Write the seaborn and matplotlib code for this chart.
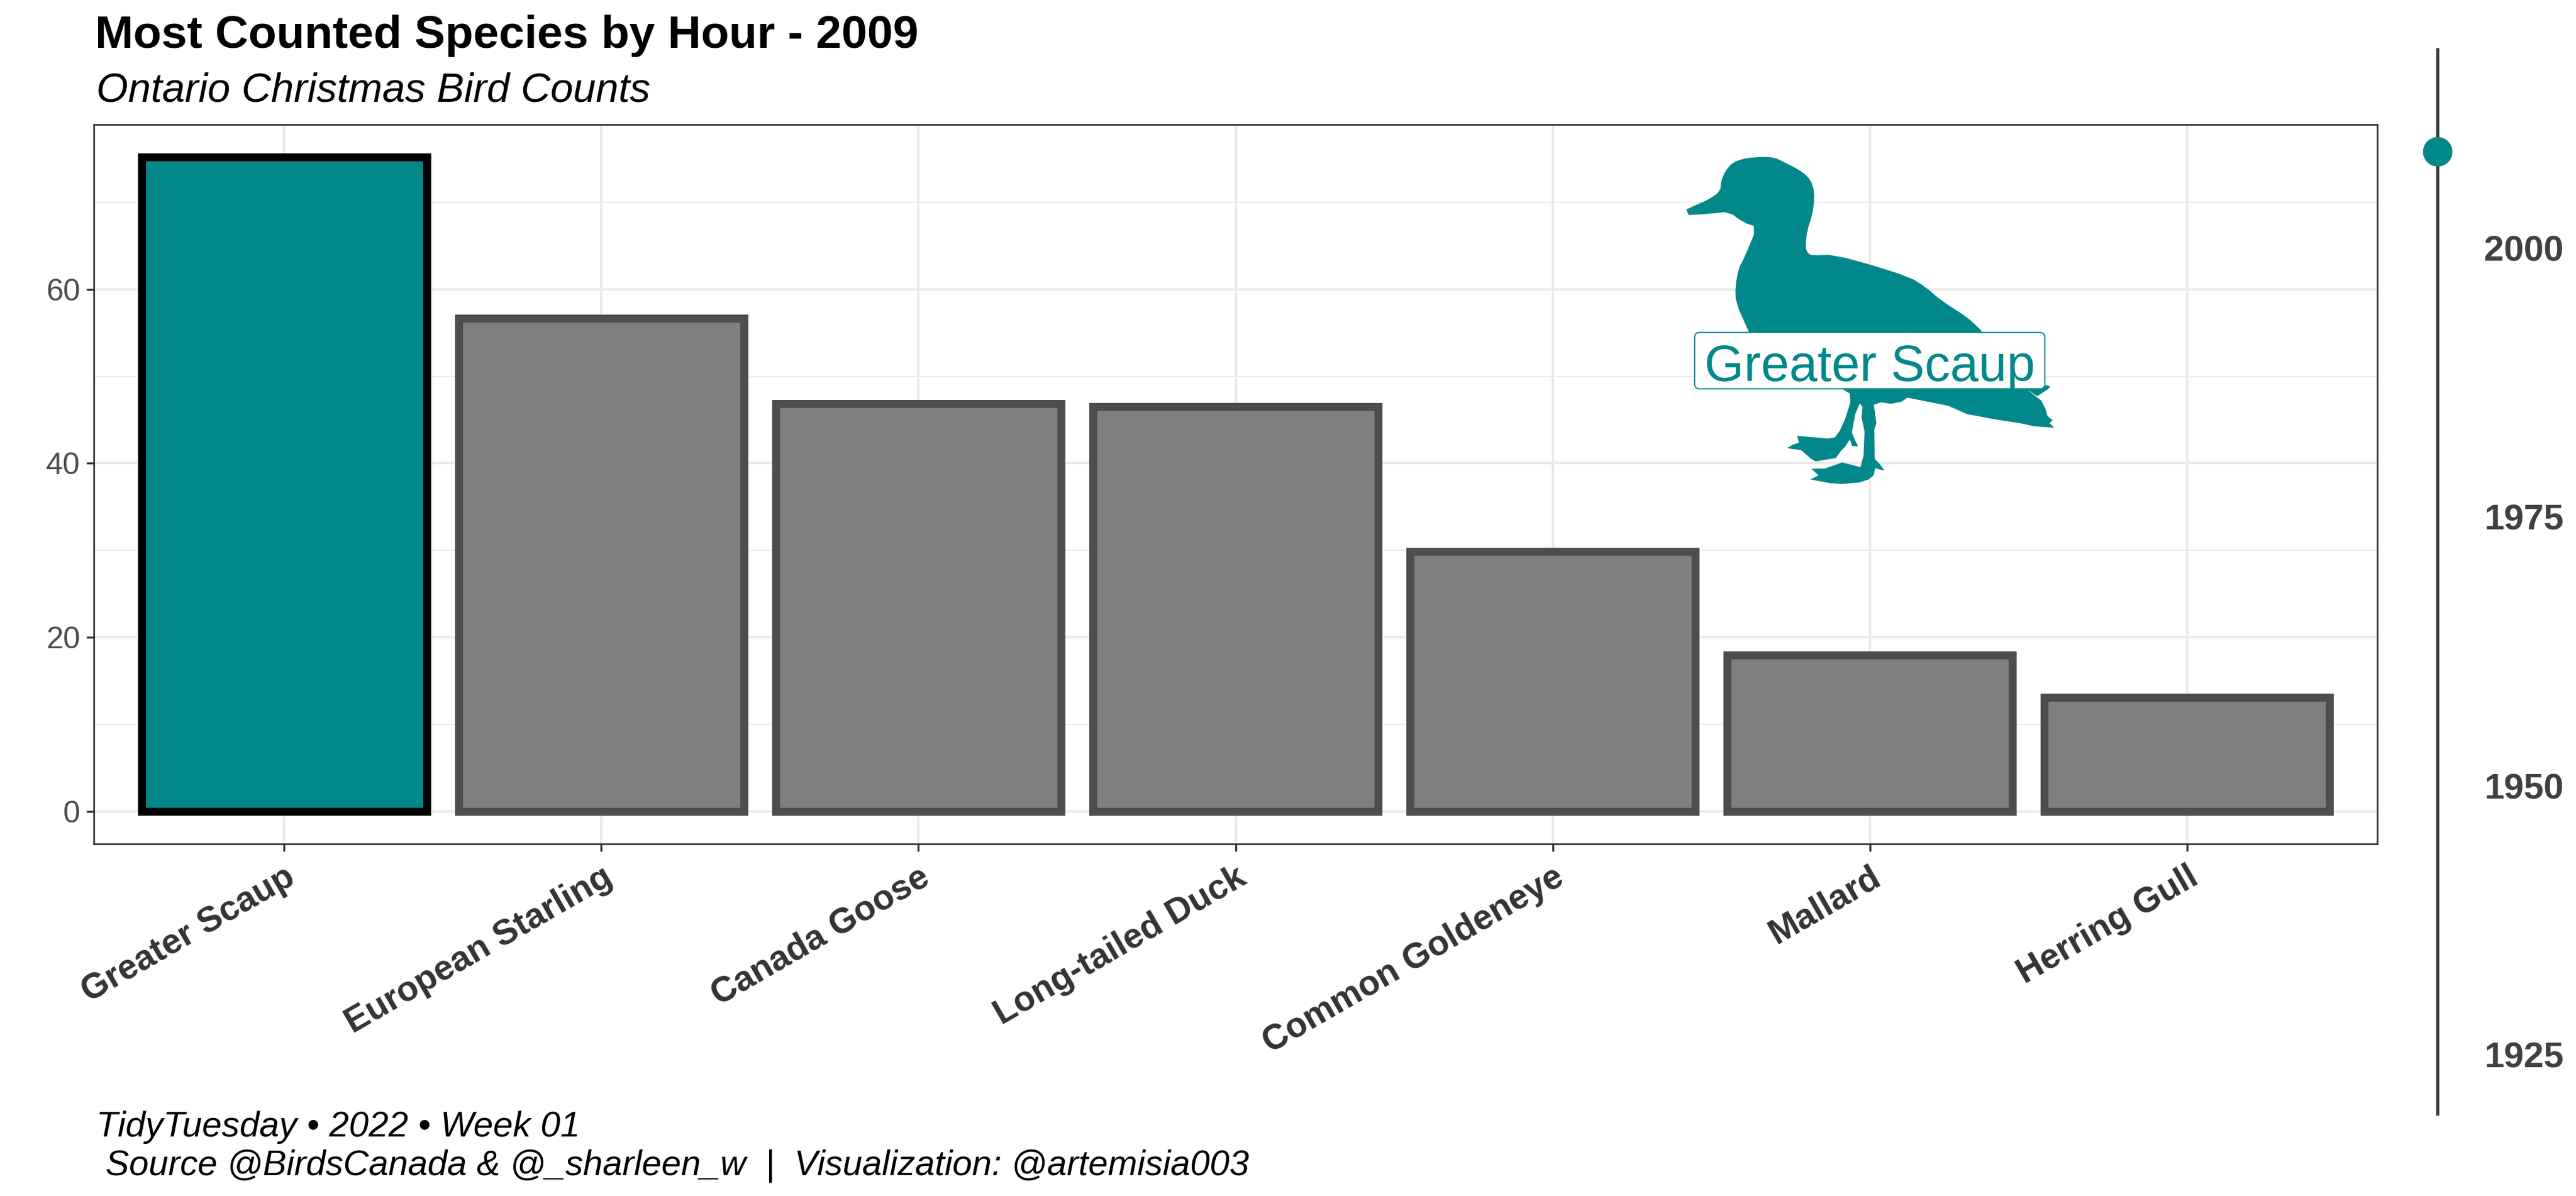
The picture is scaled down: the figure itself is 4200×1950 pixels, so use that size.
import pandas as pd
import seaborn as sns
import matplotlib.pyplot as plt
from matplotlib.patches import Polygon, FancyBboxPatch
from matplotlib.transforms import Affine2D

species = ["Greater Scaup", "European Starling", "Canada Goose", "Long-tailed Duck",
           "Common Goldeneye", "Mallard", "Herring Gull"]
counts = [75.2, 56.7, 46.9, 46.5, 29.9, 17.95, 13.1]
highlight = "Greater Scaup"
y_ticks = [0, 20, 40, 60]
y_minor = [10, 30, 50, 70]

year = 2009
year_span = [1919.3, 2018.65]
year_ticks = [1925, 1950, 1975, 2000]

title = "Most Counted Species by Hour - 2009"
subtitle = "Ontario Christmas Bird Counts"
caption1 = "TidyTuesday \u2022 2022 \u2022 Week 01"
caption2 = "Source @BirdsCanada & @_sharleen_w  |  Visualization: @artemisia003"

TEAL = "#02888A"
W, H = 4200, 1950

# duck outline, crop origin then points at 3x
duck_head = (2730, 240, [(58, 305), (100, 285), (170, 255), (225, 215), (228, 165), (250, 115), (285, 75),
                         (340, 55), (420, 47), (490, 50), (530, 70), (600, 105), (650, 140), (678, 185),
                         (685, 250), (675, 330), (650, 405), (640, 490), (655, 522), (680, 530), (780, 525),
                         (1020, 592)])
duck_back = (3000, 400, [(150, 95), (340, 155), (420, 205), (495, 270), (620, 350), (680, 405), (700, 430),
                         (990, 680), (1030, 690), (1015, 705), (965, 738), (915, 705), (985, 760), (1005, 800),
                         (1015, 835), (1040, 855), (1025, 870), (1048, 892), (950, 885), (880, 870), (750, 850),
                         (620, 825), (530, 785), (330, 745)])
duck_legs = (2900, 620, [(600, 105), (550, 115), (500, 108), (465, 120), (470, 150), (478, 210), (468, 240),
                         (470, 385), (495, 410), (518, 443), (472, 430), (465, 465), (440, 485), (395, 500),
                         (310, 507), (250, 503), (155, 485), (195, 465), (160, 433), (225, 432), (310, 402),
                         (350, 412), (400, 425), (415, 370), (420, 250), (405, 180), (410, 130), (397, 113),
                         (375, 165), (358, 255), (372, 290), (388, 322), (360, 322), (348, 290), (325, 325),
                         (305, 345), (280, 380), (180, 397), (160, 385), (110, 342), (40, 332), (70, 315),
                         (100, 305), (90, 272), (240, 285), (275, 280), (300, 245), (325, 190), (350, 110),
                         (348, 65), (310, 42)])
duck_front = (2730, 240, [(365, 905), (300, 760), (298, 680), (315, 590), (340, 545), (405, 390), (340, 370),
                          (265, 315), (180, 325), (70, 332)])


def to_px(part):
    x0, y0, pts = part
    return [(x0 + x / 3, y0 + y / 3) for x, y in pts]


def soften(pts):
    # corner cutting so the traced head and back are not blocky
    out = [pts[0]]
    for (x1, y1), (x2, y2) in zip(pts[:-1], pts[1:]):
        out.append((0.75 * x1 + 0.25 * x2, 0.75 * y1 + 0.25 * y2))
        out.append((0.25 * x1 + 0.75 * x2, 0.25 * y1 + 0.75 * y2))
    out.append(pts[-1])
    return out


sns.set_theme(style="white")
plt.rcParams["font.family"] = ["Liberation Sans", "DejaVu Sans"]

fig = plt.figure(figsize=(14, 6.5), dpi=300, facecolor="white")
ax = fig.add_axes([153 / W, 1 - 1376 / H, (3876 - 153) / W, (1376 - 203) / H])
px = Affine2D().scale(1 / W, -1 / H).translate(0, 1) + fig.transFigure

df = pd.DataFrame({"species": species, "count": counts})
colors = {s: (TEAL if s == highlight else "#7F7F7F") for s in species}
sns.barplot(data=df, x="species", y="count", hue="species", palette=colors, saturation=1,
            width=0.9, edgecolor="#4D4D4D", linewidth=3.12, legend=False, ax=ax)
for bar, s in zip(ax.patches, species):
    if s == highlight:
        bar.set_edgecolor("black")

ax.set_xlim(-0.6, 6.6)
ax.set_ylim(-3.76, 78.96)
ax.set_xlabel("")
ax.set_ylabel("")
ax.set_yticks(y_ticks)
ax.set_yticks(y_minor, minor=True)
ax.set_axisbelow(True)
ax.grid(which="major", color="#EBEBEB", linewidth=0.96)
ax.grid(which="minor", axis="y", color="#EBEBEB", linewidth=0.5)
ax.tick_params(axis="both", which="major", length=2.9, width=0.8, color="#333333", left=True, bottom=True)
ax.tick_params(axis="y", which="minor", length=0)
ax.tick_params(axis="y", labelsize=12, labelcolor="#4D4D4D", pad=2.4)
ax.tick_params(axis="x", pad=3.6)
for lab in ax.get_xticklabels():
    lab.set(rotation=30, ha="right", va="top", rotation_mode="anchor", fontsize=13.75,
            fontweight="bold", color="#333333")
for sp in ax.spines.values():
    sp.set_color("#333333")
    sp.set_linewidth(0.65)

# duck silhouette with the name label on top
outline = (soften(to_px(duck_head)) + soften(to_px(duck_back)[:7]) + to_px(duck_back)[7:]
           + to_px(duck_legs) + soften(to_px(duck_front)))
ax.add_patch(Polygon(outline, closed=True, facecolor=TEAL, edgecolor="none", transform=px, zorder=3, clip_on=False))
r = 8
ax.add_patch(FancyBboxPatch((2763 + r, 542 + r), 571 - 2 * r, 92 - 2 * r,
                            boxstyle=f"round,pad={r},rounding_size={r}", facecolor="white", edgecolor=TEAL,
                            linewidth=0.48, transform=px, zorder=4))
ax.text(5, 49.5, highlight, color=TEAL, fontsize=19.9, ha="center", va="baseline", zorder=5)

# year slider on the right
ax2 = fig.add_axes([3950 / W, 1 - 1819 / H, 48 / W, (1819 - 78) / H], facecolor="none")
sns.lineplot(x=[0, 0], y=year_span, estimator=None, sort=False, color="#3F3F3F", linewidth=1.3, ax=ax2)
ax2.lines[0].set_solid_capstyle("butt")
sns.scatterplot(x=[0], y=[year], s=133, color=TEAL, linewidth=0, zorder=5, ax=ax2)
ax2.set_xlim(-1, 1)
ax2.set_ylim(*year_span)
ax2.set_xticks([])
ax2.yaxis.tick_right()
ax2.set_yticks(year_ticks)
ax2.tick_params(axis="y", length=0, pad=12.5, labelsize=14, labelcolor="#404040")
for lab in ax2.get_yticklabels():
    lab.set_fontweight("bold")
for sp in ax2.spines.values():
    sp.set_visible(False)


def put(x, y, s, **kw):
    fig.text(x / W, 1 - y / H, s, va="baseline", ha="left", color="black", **kw)


put(155, 78, title, fontsize=18, fontweight="bold")
put(157, 166, subtitle, fontsize=16, fontstyle="italic")
put(157, 1853, caption1, fontsize=13.9, fontstyle="italic")
put(172, 1915, caption2, fontsize=13.8, fontstyle="italic")

fig.savefig("out.png", dpi=300)
